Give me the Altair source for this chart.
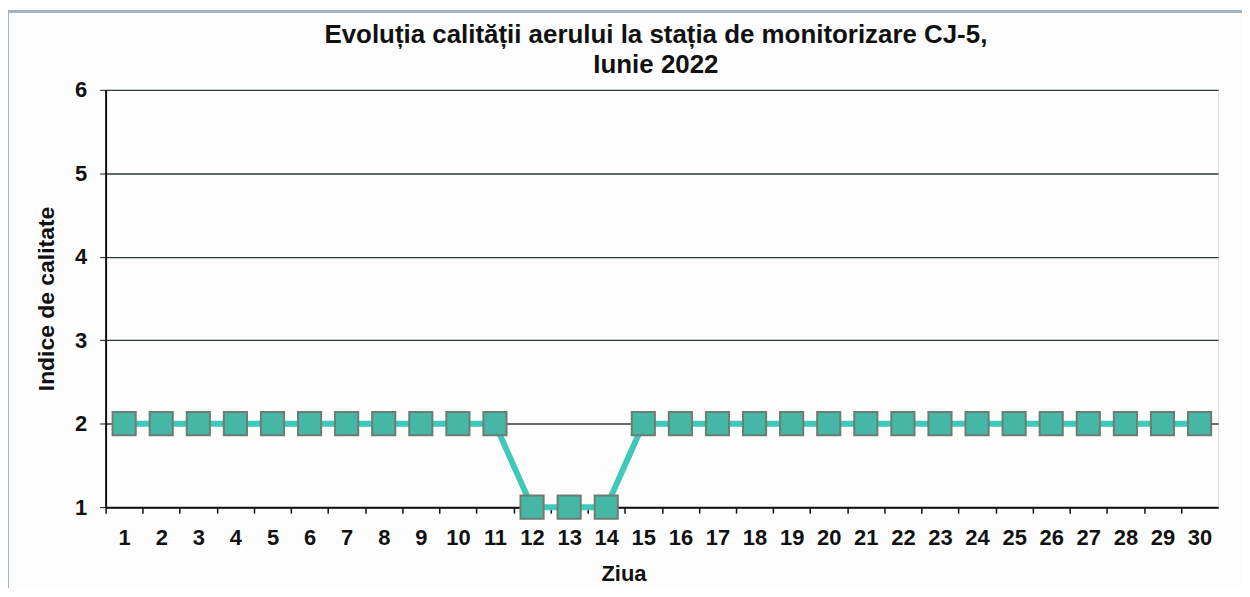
import altair as alt
import pandas as pd

days = list(range(1, 31))
index_values = [2, 2, 2, 2, 2, 2, 2, 2, 2, 2, 2, 1, 1, 1, 2, 2, 2, 2, 2, 2,
                2, 2, 2, 2, 2, 2, 2, 2, 2, 2]
y_ticks = [1, 2, 3, 4, 5, 6]
title_lines = ["Evoluția calității aerului la stația de monitorizare CJ-5,", "Iunie 2022"]

df = pd.DataFrame({"Ziua": days, "Indice": index_values})

FONT = "Liberation Sans"
W, H = 1117, 419
band = W / 30

x_enc = alt.X("Ziua:Q",
              scale=alt.Scale(domain=[0.5, 30.5], nice=False, zero=False),
              axis=alt.Axis(title="Ziua", values=days, format="d", labelAngle=0,
                            labelFontSize=22, labelFontWeight="bold",
                            labelFont=FONT, labelColor="#111", labelPadding=15,
                            titleFontSize=22, titleFontWeight="bold", titleFont=FONT, titleColor="#111",
                            titleX=520, titleY=74, titleBaseline="alphabetic", titleAlign="center",
                            labelFlush=False, labelOverlap=False,
                            tickOffset=-band / 2, labelOffset=band / 2,
                            tickSize=6, tickColor="#111", domainColor="#111",
                            domainWidth=2, tickWidth=1.5, grid=False))
y_enc = alt.Y("Indice:Q",
              scale=alt.Scale(domain=[1, 6], nice=False, zero=False),
              axis=alt.Axis(title="Indice de calitate", values=y_ticks, format="d",
                            labelFontSize=22, labelFontWeight="bold", labelFont=FONT, labelColor="#111",
                            labelPadding=13, tickSize=6, tickColor="#111", domainColor="#111", domainWidth=2,
                            titleFontSize=23, titleFontWeight="bold", titleFont=FONT, titleColor="#111",
                            titlePadding=16, grid=True, gridColor="#2f3a38", gridWidth=1.3))

line = alt.Chart(df).mark_line(color="#3ec9b8", strokeWidth=6).encode(x=x_enc, y=y_enc)
points = alt.Chart(df).mark_point(shape="square", filled=True, size=540, fill="#47b7a5",
                                  stroke="#6e7c72", strokeWidth=2, opacity=1).encode(x=x_enc, y=y_enc)

frame = alt.Chart(df).mark_rect(fill=None, stroke="#9fb4c4", strokeWidth=2).encode(
    x=alt.value(-98), x2=alt.value(W + 40), y=alt.value(-79), y2=alt.value(H + 120)
)

chart = alt.layer(frame, line, points).properties(
    width=W, height=H,
    title=alt.TitleParams(title_lines, font=FONT, fontSize=26, fontWeight="bold", color="#111",
                          anchor="middle", offset=-68, dx=-6, lineHeight=30),
    autosize=alt.AutoSizeParams(type="none"),
    padding={"left": 98, "top": 81, "right": 24, "bottom": 80},
).configure_view(stroke="#111", strokeWidth=2).configure(background="#fdfdfd")

chart.save("out.html", embed_options={"renderer": "svg", "actions": False})
